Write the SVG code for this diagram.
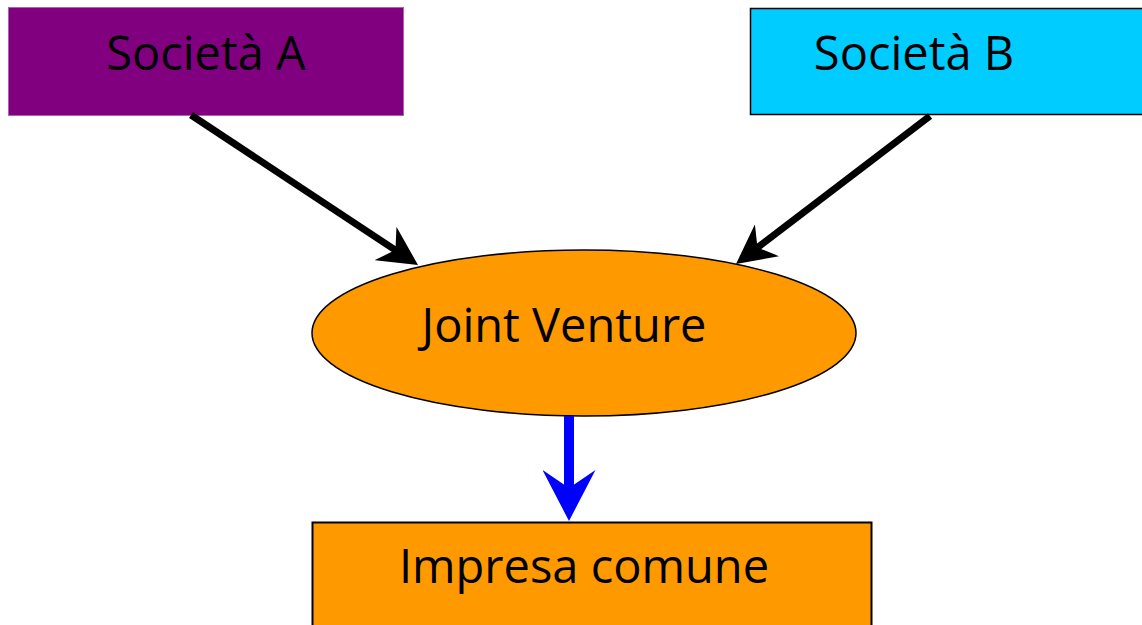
<svg xmlns="http://www.w3.org/2000/svg" width="1142" height="625" viewBox="0 0 1142 625">
  <style>
    .label { font-family: "Open Sans", "Liberation Sans", sans-serif; font-size: 47px; fill: #000; text-anchor: middle; }
    .link { stroke: #000; stroke-width: 7; fill: none; }
  </style>
  <defs>
    <!-- notched arrowheads; the line ends just past the notch -->
    <marker id="head-black" markerUnits="userSpaceOnUse" viewBox="0 0 39 40" refX="16" refY="20" markerWidth="39" markerHeight="40" orient="auto">
      <path d="M0,0 L39,20 L0,40 L12,20 Z" fill="#000"/>
    </marker>
    <marker id="head-blue" markerUnits="userSpaceOnUse" viewBox="0 0 51 53" refX="24" refY="26.5" markerWidth="51" markerHeight="53" orient="auto">
      <path d="M0,0 L51,26.5 L0,53 L18,26.5 Z" fill="#0000ff"/>
    </marker>
  </defs>

  <g id="societa-a">
    <rect x="8.5" y="7.5" width="395" height="108" fill="#800080" stroke="#b060b0" stroke-width="1"/>
    <text class="label" x="206" y="70">Società A</text>
  </g>

  <g id="societa-b">
    <rect x="750.5" y="8.5" width="395" height="106" fill="#00ccff" stroke="#000" stroke-width="1.5"/>
    <text class="label" x="914" y="70">Società B</text>
  </g>

  <g id="joint-venture">
    <ellipse cx="584" cy="333" rx="272" ry="83" fill="#ff9900" stroke="#000" stroke-width="1.5"/>
    <text class="label" x="564" y="342">Joint Venture</text>
  </g>

  <g id="impresa-comune">
    <rect x="312.5" y="522.5" width="559" height="110" fill="#ff9900" stroke="#000" stroke-width="2"/>
    <text class="label" x="584" y="583">Impresa comune</text>
  </g>

  <g id="connectors">
    <line class="link" x1="191" y1="115" x2="398.8" y2="252.3" marker-end="url(#head-black)"/>
    <line class="link" x1="930" y1="116" x2="754.3" y2="250" marker-end="url(#head-black)"/>
    <line x1="569" y1="416" x2="569" y2="494" stroke="#0000ff" stroke-width="10" marker-end="url(#head-blue)"/>
  </g>
</svg>
